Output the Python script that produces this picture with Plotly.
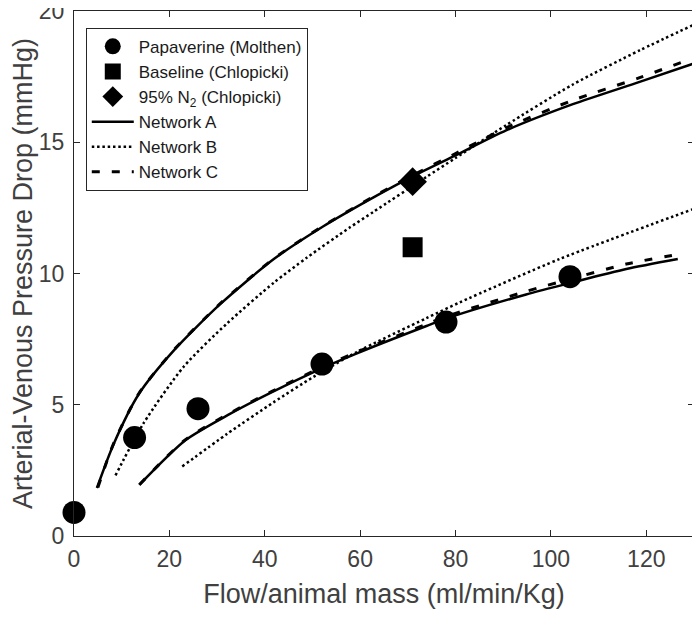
import plotly.graph_objects as go

# ---- data ----
pap_x = [0, 12.7, 26, 52, 78, 104]
pap_y = [0.9, 3.75, 4.85, 6.55, 8.15, 9.88]
base_x = [71]
base_y = [11.0]
n2_x = [71]
n2_y = [13.5]

# Network A (solid)
a_up_x = [4.8, 8.3, 13.6, 20.9, 30.7, 41.9, 52.3, 62.8, 71, 80, 90.6, 104.6, 118.6, 130]
a_up_y = [1.83, 3.5, 5.41, 7.06, 8.84, 10.55, 11.8, 12.9, 13.7, 14.5, 15.45, 16.45, 17.3, 18.0]
a_lo_x = [13.7, 23.3, 32.7, 41.5, 51.5, 59.2, 73.9, 78, 94.8, 104.3, 115.8, 126.6]
a_lo_y = [1.95, 3.64, 4.65, 5.48, 6.35, 6.95, 8.0, 8.28, 9.2, 9.65, 10.17, 10.55]

# Network B (dotted)
b_up_x = [8.7, 14.6, 23, 32.1, 41.9, 48.8, 57.8, 62.8, 73.9, 80, 90.6, 104.6, 118.6, 130]
b_up_y = [2.31, 4.3, 6.45, 8.1, 9.65, 10.6, 11.75, 12.35, 13.68, 14.4, 15.65, 17.2, 18.5, 19.48]
b_lo_x = [22.7, 32.1, 41.9, 50.1, 59.2, 73.9, 80.9, 101.8, 129.8]
b_lo_y = [2.65, 3.89, 5.1, 6.05, 7.0, 8.3, 8.9, 10.55, 12.45]

# Network C (dashed)
c_up_x = [5.0, 8.3, 13.6, 20.9, 30.7, 41.9, 52.3, 62.8, 71, 80, 90.6, 104.6, 118.6, 128.5]
c_up_y = [1.85, 3.52, 5.43, 7.08, 8.86, 10.57, 11.82, 12.93, 13.74, 14.57, 15.55, 16.6, 17.46, 18.12]
c_lo_x = [13.7, 23.3, 32.7, 41.5, 51.5, 59.2, 73.9, 78, 94.8, 104.3, 115.8, 127.7]
c_lo_y = [1.95, 3.66, 4.68, 5.51, 6.39, 7.0, 8.07, 8.36, 9.32, 9.8, 10.36, 10.76]

x_ticks = [0, 20, 40, 60, 80, 100, 120]
y_ticks = [0, 5, 10, 15, 20]

FONT = "Liberation Sans, Arial, sans-serif"
TXT = "#404040"
AX = "#262626"

fig = go.Figure()

def seg(x1, y1, x2, y2):
    return list(x1) + [None] + list(x2), list(y1) + [None] + list(y2)

ax_, ay_ = seg(a_up_x, a_up_y, a_lo_x, a_lo_y)
bx_, by_ = seg(b_up_x, b_up_y, b_lo_x, b_lo_y)
cx_, cy_ = seg(c_up_x, c_up_y, c_lo_x, c_lo_y)

fig.add_trace(go.Scatter(x=ax_, y=ay_, mode="lines", name="Network A",
                         line=dict(color="black", width=2.5, shape="spline", smoothing=0.7),
                         legendrank=4, connectgaps=False))
fig.add_trace(go.Scatter(x=bx_, y=by_, mode="lines", name="Network B",
                         line=dict(color="black", width=2.5, dash="2.5px,2.8px", shape="spline", smoothing=0.7),
                         legendrank=5, connectgaps=False))
fig.add_trace(go.Scatter(x=cx_, y=cy_, mode="lines", name="Network C",
                         line=dict(color="black", width=3, dash="8px,12px", shape="spline", smoothing=0.7),
                         legendrank=6, connectgaps=False))

fig.add_trace(go.Scatter(x=pap_x, y=pap_y, mode="markers", name="Papaverine (Molthen)",
                         marker=dict(symbol="circle", size=23, color="black"),
                         cliponaxis=False, legendrank=1))
fig.add_trace(go.Scatter(x=base_x, y=base_y, mode="markers", name="Baseline (Chlopicki)",
                         marker=dict(symbol="square", size=20, color="black"),
                         cliponaxis=False, legendrank=2))
fig.add_trace(go.Scatter(x=n2_x, y=n2_y, mode="markers", name="95% N<sub>2</sub> (Chlopicki)",
                         marker=dict(symbol="diamond", size=22, color="black"),
                         cliponaxis=False, legendrank=3))

axis_common = dict(showgrid=False, zeroline=False, showline=True, linecolor=AX,
                   linewidth=1, mirror="allticks", ticks="inside", ticklen=6,
                   tickcolor=AX, tickfont=dict(family=FONT, size=23, color=TXT),
                   automargin=False, ticklabeloverflow="allow")

# page body adds an 8px offset, so the figure is sized 692x615
fig.update_layout(
    width=692, height=615,
    margin=dict(l=66, r=6, t=3, b=87),
    paper_bgcolor="white", plot_bgcolor="white",
    font=dict(family=FONT, color=TXT),
    xaxis=dict(range=[0, 130], tickvals=x_ticks, ticktext=[str(v) for v in x_ticks],
               title=dict(text="Flow/animal mass (ml/min/Kg)", font=dict(family=FONT, size=27, color=TXT),
                          standoff=13),
               ticklabelstandoff=2, **axis_common),
    yaxis=dict(range=[0, 20], tickvals=y_ticks, ticktext=[str(v) for v in y_ticks],
               title=dict(text="Arterial-Venous Pressure Drop (mmHg)", font=dict(family=FONT, size=27, color=TXT),
                          standoff=4),
               ticklabelstandoff=4, **axis_common),
    legend=dict(x=0.019, y=0.968, xanchor="left", yanchor="top",
                bgcolor="white", bordercolor=AX, borderwidth=1,
                font=dict(family=FONT, size=17, color="#1a1a1a"),
                itemwidth=42, traceorder="normal"),
    showlegend=True,
)

fig.write_html("out.html")
